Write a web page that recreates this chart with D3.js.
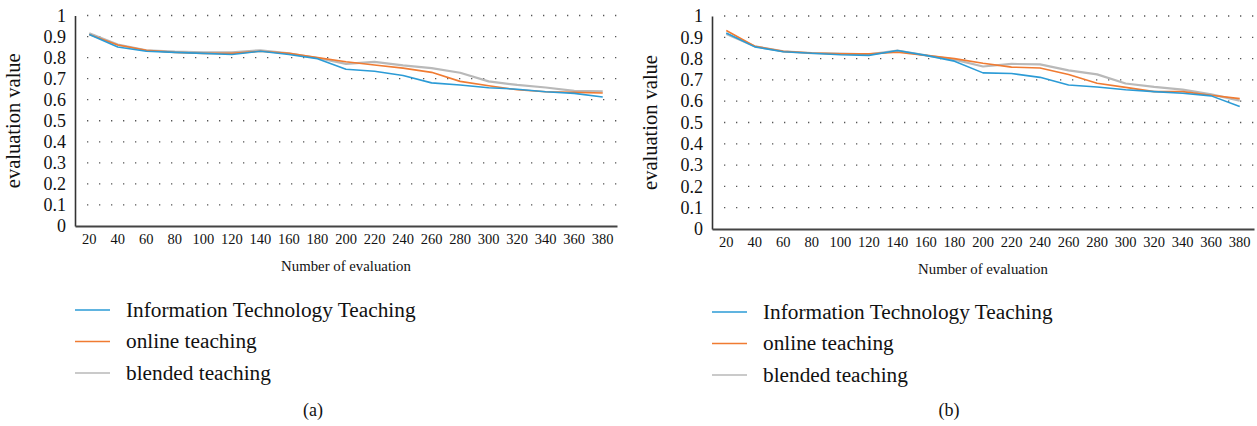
<!DOCTYPE html>
<html>
<head>
<meta charset="utf-8">
<script src="https://cdn.jsdelivr.net/npm/d3@7"></script>
<style>
  body { margin: 0; background: #fff; }
  svg { display: block; }
</style>
</head>
<body>
<div id="container"><svg></svg></div>
<script>
let width = 1257
let height = 426
let fontFamily = "'Liberation Serif', 'Times New Roman', serif"

// x categories
let counts = [20, 40, 60, 80, 100, 120, 140, 160, 180, 200, 220, 240, 260, 280, 300, 320, 340, 360, 380]
let y_ticks = [0, 0.1, 0.2, 0.3, 0.4, 0.5, 0.6, 0.7, 0.8, 0.9, 1]

let series_names = ['Information Technology Teaching', 'online teaching', 'blended teaching']
let colors = ['#2b9bd6', '#f07b32', '#b9b9b9']

// panel (a)
let a_it      = [0.91, 0.85, 0.83, 0.825, 0.82, 0.815, 0.83, 0.815, 0.795, 0.745, 0.735, 0.715, 0.68, 0.67, 0.657, 0.65, 0.638, 0.63, 0.613]
let a_online  = [0.91, 0.86, 0.835, 0.825, 0.82, 0.82, 0.83, 0.82, 0.80, 0.78, 0.765, 0.75, 0.73, 0.687, 0.666, 0.647, 0.638, 0.635, 0.632]
let a_blended = [0.915, 0.862, 0.835, 0.828, 0.825, 0.825, 0.835, 0.82, 0.798, 0.77, 0.78, 0.763, 0.75, 0.728, 0.687, 0.67, 0.658, 0.642, 0.64]

// panel (b)
let b_it      = [0.92, 0.855, 0.832, 0.825, 0.818, 0.815, 0.838, 0.815, 0.788, 0.733, 0.73, 0.712, 0.676, 0.667, 0.654, 0.645, 0.637, 0.625, 0.575]
let b_online  = [0.932, 0.858, 0.834, 0.826, 0.822, 0.822, 0.83, 0.815, 0.80, 0.778, 0.76, 0.756, 0.725, 0.684, 0.665, 0.645, 0.645, 0.628, 0.612]
let b_blended = [0.915, 0.858, 0.834, 0.826, 0.823, 0.82, 0.838, 0.815, 0.795, 0.763, 0.775, 0.773, 0.745, 0.726, 0.683, 0.667, 0.654, 0.632, 0.603]

let svg = d3.select('#container').select('svg')
    .attr('width', width)
    .attr('height', height)
    .style('font-family', fontFamily)

function draw_panel(p, series, tag) {
    let g = svg.append('g')

    let x = d3.scaleBand()
        .domain(counts)
        .range([p.left, p.right])
    let y = d3.scaleLinear()
        .domain([0, 1])
        .range([p.bottom, p.top])

    // dotted grid
    g.append('g')
        .selectAll('line')
        .data(y_ticks.slice(1))
        .enter().append('line')
        .attr('x1', p.left + 12)
        .attr('x2', p.right)
        .attr('y1', d => y(d))
        .attr('y2', d => y(d))
        .attr('stroke', '#555')
        .attr('stroke-width', 1.3)
        .attr('stroke-dasharray', '1.3,10.7')

    // y axis
    let axis_y = d3.axisLeft(y)
        .tickValues(y_ticks)
        .tickSize(0)
        .tickPadding(9)
        .tickFormat(d => d3.format('~g')(d))
    let gy = g.append('g')
        .attr('transform', `translate(${p.left}, 0)`)
        .call(axis_y)
        .attr('font-family', fontFamily)
        .attr('font-size', 18)
    gy.select('.domain').attr('stroke', '#333').attr('stroke-width', 1.6)
    gy.selectAll('text').attr('fill', '#111')

    // x axis
    let axis_x = d3.axisBottom(x)
        .tickSize(0)
        .tickPadding(8)
    let gx = g.append('g')
        .attr('transform', `translate(0, ${p.bottom})`)
        .call(axis_x)
        .attr('font-family', fontFamily)
        .attr('font-size', 14.5)
    gx.select('.domain').attr('stroke', '#444').attr('stroke-width', 2)
    gx.selectAll('text').attr('fill', '#111')

    // axis labels
    g.append('text')
        .attr('x', (p.left + p.right) / 2)
        .attr('y', p.bottom + 45)
        .attr('text-anchor', 'middle')
        .attr('font-size', 14.8)
        .attr('fill', '#111')
        .text('Number of evaluation')

    g.append('text')
        .attr('transform', `translate(${p.left - 55}, ${(p.top + p.bottom) / 2}) rotate(-90)`)
        .attr('text-anchor', 'middle')
        .attr('font-size', 20.5)
        .attr('fill', '#111')
        .text('evaluation value')

    // lines (blended drawn first, underneath)
    let line = d3.line()
        .x((d, i) => x(counts[i]) + x.bandwidth() / 2)
        .y(d => y(d))
    let order = [2, 1, 0]
    order.forEach(k => {
        g.append('path')
            .datum(series[k])
            .attr('d', line)
            .attr('fill', 'none')
            .attr('stroke', colors[k])
            .attr('stroke-width', k == 2 ? 2.2 : 1.6)
            .attr('stroke-linejoin', 'round')
    })

    // legend
    let lg = g.append('g')
        .selectAll('g')
        .data(series_names)
        .enter().append('g')
        .attr('transform', (d, i) => `translate(${p.left}, ${p.legendTop + i * 31.5})`)
    lg.append('line')
        .attr('x1', 0)
        .attr('x2', 35)
        .attr('stroke', (d, i) => colors[i])
        .attr('stroke-width', 1.6)
    lg.append('text')
        .attr('x', 51)
        .attr('dy', '0.32em')
        .attr('font-size', 21.3)
        .attr('fill', '#111')
        .text(d => d)

    g.append('text')
        .attr('x', p.tagX)
        .attr('y', 416)
        .attr('text-anchor', 'middle')
        .attr('font-size', 18)
        .attr('fill', '#111')
        .text(tag)
}

draw_panel({ left: 75, right: 617, top: 15.5, bottom: 226, legendTop: 310, tagX: 313 },
    [a_it, a_online, a_blended], '(a)')
draw_panel({ left: 712, right: 1254, top: 16, bottom: 229, legendTop: 312, tagX: 949 },
    [b_it, b_online, b_blended], '(b)')
</script>
</body>
</html>
